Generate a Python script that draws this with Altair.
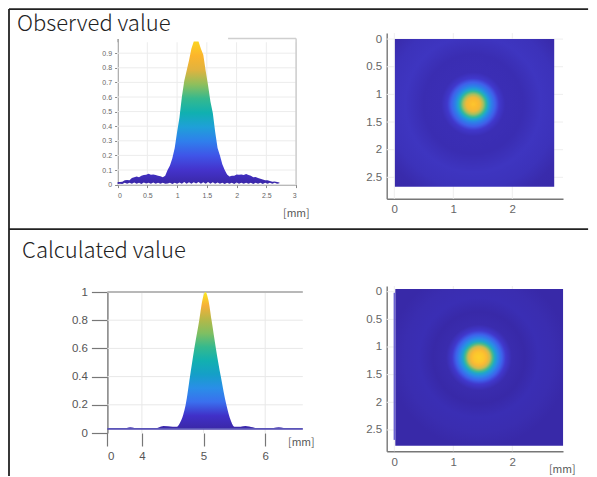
import altair as alt

# ---------- observed profile ----------
obs_x = [0.00,0.04,0.08,0.12,0.16,0.20,0.24,0.28,0.32,0.36,0.40,0.44,0.48,0.52,0.56,0.60,0.64,0.68,0.72,0.76,0.80,
         0.84,0.88,0.92,0.96,1.00,1.04,1.08,1.12,1.16,1.20,1.24,1.28,1.32,1.36,1.40,1.44,1.48,1.52,1.56,1.60,1.64,1.68,
         1.72,1.76,1.80,1.84,1.88,1.92,1.96,2.00,2.04,2.08,2.12,2.16,2.20,2.24,2.28,2.32,2.36,2.40,2.44,2.48,2.52,2.56,
         2.60,2.64,2.68,2.72]
obs_top = [.018,.018,.02,.03,.032,.03,.045,.05,.055,.05,.06,.065,.068,.075,.068,.07,.066,.06,.058,.05,.06,
           .10,.13,.18,.25,.36,.46,.60,.71,.78,.85,.93,.98,.98,.98,.93,.89,.78,.68,.57,.49,.36,.25,
           .20,.14,.10,.07,.055,.06,.06,.07,.068,.07,.065,.072,.065,.06,.05,.052,.045,.04,.035,.03,.03,.025,
           .02,.022,.018,.015]
obs_low = [.004,.006,.004,.012,.006,.012,.005,.014,.006,.012,.004,.014,.008,.012,.005,.014,.006,.012,.006,.012,.005,
           .008,.012,.004,.012,.006,.014,.005,.018,.006,.016,.006,.016,.008,.018,.006,.016,.006,.018,.005,.016,.006,.014,
           .006,.012,.004,.012,.006,.012,.004,.014,.006,.012,.005,.012,.006,.012,.004,.012,.006,.012,.004,.012,.005,.012,
           .006,.012,.006,.01]
# ---------- calculated profile ----------
calc_x = [3.44,3.60,3.70,3.81,3.95,4.10,4.19,4.35,4.50,4.57,4.62,4.67,4.71,4.78,4.85,4.93,4.98,5.03,5.08,5.13,5.20,5.28,5.37,5.44,5.50,5.60,5.68,5.80,5.89,6.05,6.22,6.38,6.61]
calc_top = [.03,.03,.03,.04,.03,.03,.03,.05,.045,.045,.075,.13,.20,.40,.60,.80,.94,1.0,.94,.80,.60,.40,.20,.09,.045,.045,.05,.04,.03,.03,.04,.03,.03]
calc_base = [.025]*len(calc_x)

# ---------- tick values ----------
p1_xticks = [0, .5, 1, 1.5, 2, 2.5, 3]
p1_yticks = [0, .1, .2, .3, .4, .5, .6, .7, .8, .9]
img_xticks = [0, 1, 2]
img_yticks = [0, .5, 1, 1.5, 2, 2.5]
p3_xticks = [3.44, 4, 5, 6]
p3_yticks = [0, .2, .4, .6, .8, 1]

# ---------- colour stops ----------
obs_grad_off = [0,.1,.2,.3,.4,.5,.6,.7,.8,.9,1]
obs_grad_col = ["#3a27a6","#4433cc","#3f55e8","#2f7fec","#1fa0d8","#10b0b0","#35b98e","#8fbf5c","#e0b33f","#fcb52c","#fbd420"]
calc_grad_off = [0,.1,.2,.3,.4,.5,.6,.7,.8,.9,1]
calc_grad_col = ["#3a27a6","#4030c8","#3a6fee","#2a8ee8","#159fc8","#12b0b0","#35b98e","#7fbf62","#b5b848","#f5b038","#fbe81c"]

# radial profile of the two images: radius [px], colour
obs_r   = [0,4,7,10,13,15,18,22,26,32,50,68,85,100,119]
obs_c   = ["#fcc62d","#fbbb2e","#eeb93a","#a6bf5f","#32b89a","#1fa5d0","#2b82e8","#3f5fea","#4038cc","#3b2eb5","#3a2db2","#3e35c0","#3c32ba","#392bac","#3829a8"]
calc_r  = [0,5,8,11,14,16,19,23,27,33,46,60,75,90,120]
calc_c  = ["#fcd02a","#fcc62d","#f8b836","#c8bc50","#45b98e","#1fa8c8","#2b8ae8","#3d62ec","#4038cc","#3a2cae","#3829a8","#3a2eb4","#3a2db0","#3829a8","#3829a8"]

# panel rectangles
obs_img = dict(x=0.01, x2=2.71, y=0.0, y2=2.67)
calc_img = dict(x=0.017, x2=2.86, y=-0.05, y2=2.785)
calc_strip = dict(x=-0.012, x2=0.017, y=0.02, y2=2.68)

FONT = "Liberation Sans"
TXT = "Noto Sans CJK JP"

# grid cell origins and sizes (page px)
OX1, OX2, OY1, OY2 = 8.9, 308, 8.9, 229
W1, W2, H1, H2 = OX2 - OX1, 279, OY2 - OY1, 246


def stops(off, col):
    return [alt.GradientStop(color=c, offset=o) for o, c in zip(off, col)]


def linear(off, col):
    return alt.LinearGradient(gradient="linear", stops=stops(off, col), x1=0, x2=0, y1=1, y2=0)


def radial(rs, cs, cx, cy, R, box):
    return alt.RadialGradient(gradient="radial", stops=stops([r / R for r in rs], cs),
                              x1=cx, y1=cy, x2=cx, y2=cy, r1=0, r2=R / box)


def rows(**cols):
    n = len(next(iter(cols.values())))
    return [{k: v[i] for k, v in cols.items()} for i in range(n)]


def frame_rule(ox, oy, x0, x1, y0, y1):
    c = alt.Chart(alt.Data(values=[{"a": 0}]))
    if y0 == y1:
        return c.mark_rule(color="#222222", strokeWidth=1.8).encode(
            x=alt.value(x0 - ox), x2=alt.value(x1 - ox), y=alt.value(y0 - oy))
    return c.mark_rule(color="#222222", strokeWidth=1.8).encode(
        x=alt.value(x0 - ox), y=alt.value(y0 - oy), y2=alt.value(y1 - oy))


def label(ox, oy, x, y, text, size, color, font=TXT, weight=400):
    return alt.Chart(alt.Data(values=[{"t": text}])).mark_text(
        align="left", baseline="alphabetic", fontSize=size, color=color, font=font, fontWeight=weight
    ).encode(x=alt.value(x - ox), y=alt.value(y - oy), text="t:N")


def grid(xs, ys, xa, ya, xvals, yvals, xspan, yspan, color):
    v = alt.Chart(alt.Data(values=[dict(x=a, y=yspan[0], y2=yspan[1]) for a in xvals])).mark_rule(color=color, strokeWidth=1).encode(
        x=alt.X("x:Q", scale=xs, axis=xa), y=alt.Y("y:Q", scale=ys, axis=ya), y2="y2:Q")
    h = alt.Chart(alt.Data(values=[dict(x=xspan[0], x2=xspan[1], y=b) for b in yvals])).mark_rule(color=color, strokeWidth=1).encode(
        x=alt.X("x:Q", scale=xs, axis=xa), x2="x2:Q", y=alt.Y("y:Q", scale=ys, axis=ya))
    return [v, h]


# ---------- panel 1 ----------
xs1 = alt.Scale(domain=[0, 3], nice=False, range=[117.5 - OX1, 296 - OX1])
ys1 = alt.Scale(domain=[0, 1], nice=False, range=[184.5 - OY1, 38.5 - OY1])
xa1 = alt.Axis(values=p1_xticks, format="~g", title=None, grid=False,
               domainColor="#9a9a9a", domainWidth=1.5, tickColor="#888888", tickSize=3,
               labelFontSize=7, labelColor="#666666", labelFont=FONT, labelPadding=4, labelOverlap=False,
               offset=184.5 - OY1 - H1)
ya1 = alt.Axis(values=p1_yticks, format="~g", title=None, grid=False,
               domainColor="#9a9a9a", domainWidth=1.5, tickColor="#888888", tickSize=3,
               labelFontSize=7, labelColor="#666666", labelFont=FONT, labelPadding=3, labelOverlap=False,
               offset=-(117.5 - OX1))
a1 = alt.Chart(alt.Data(values=rows(x=obs_x, y=obs_top, y2=obs_low))).mark_area(
    interpolate="linear", color=linear(obs_grad_off, obs_grad_col)
).encode(x=alt.X("x:Q", scale=xs1, axis=xa1), y=alt.Y("y:Q", scale=ys1, axis=ya1), y2="y2:Q")
edge1 = alt.Chart(alt.Data(values=[dict(x=3, y=0, y2=1)])).mark_rule(color="#c4c4c4", strokeWidth=1.2).encode(
    x=alt.X("x:Q", scale=xs1, axis=xa1), y=alt.Y("y:Q", scale=ys1, axis=ya1), y2="y2:Q")
top1 = alt.Chart(alt.Data(values=[dict(x=1.857, x2=3, y=1)])).mark_rule(color="#cfcfcf", strokeWidth=1.5).encode(
    x=alt.X("x:Q", scale=xs1, axis=xa1), x2="x2:Q", y=alt.Y("y:Q", scale=ys1, axis=ya1))

p1 = alt.layer(
    *grid(xs1, ys1, xa1, ya1, p1_xticks, p1_yticks, [0, 3], [0, .975], "#ececec"),
    a1, edge1, top1,
    frame_rule(OX1, OY1, 8.9, 588, 9, 9),
    frame_rule(OX1, OY1, 8.9, 588, 229, 229),
    frame_rule(OX1, OY1, 8.9, 8.9, 9, 476),
    label(OX1, OY1, 17, 31, "Observed value", 22, "#222222", weight=300),
    label(OX1, OY1, 283, 217, "[mm]", 10.5, "#555555"),
    label(OX1, OY1, 22, 258, "Calculated value", 22, "#222222", weight=300),
).properties(width=W1, height=H1)


# ---------- images ----------
def image_layers(img, grad, ydom, y0, y1, oy, h, extra=None):
    xs = alt.Scale(domain=[-0.129, 2.859], nice=False, range=[385.7 - OX2, 562 - OX2])
    ys = alt.Scale(domain=ydom, nice=False, range=[y0 - oy, y1 - oy])
    ax = dict(title=None, grid=False, domainColor="#777777", domainWidth=1.4,
              tickSize=0, labelFontSize=11.5, labelColor="#666666", labelFont=FONT, format="~g")
    xa = alt.Axis(values=img_xticks, labelPadding=5, offset=y1 - oy - h, **ax)
    ya = alt.Axis(values=img_yticks, labelPadding=5, offset=-(385.7 - OX2), **ax)
    base = alt.Chart(alt.Data(values=[img])).mark_rect(color=grad).encode(
        x=alt.X("x:Q", scale=xs, axis=xa), x2="x2:Q",
        y=alt.Y("y:Q", scale=ys, axis=ya), y2="y2:Q")
    layers = grid(xs, ys, xa, ya, img_xticks, img_yticks, [-0.129, 2.859], ydom, "#eeeeee") + [base]
    if extra:
        layers.append(alt.Chart(alt.Data(values=[extra])).mark_rect(color="#6a62d2").encode(
            x=alt.X("x:Q", scale=xs, axis=xa), x2="x2:Q", y=alt.Y("y:Q", scale=ys, axis=ya), y2="y2:Q"))
    return layers


g2 = radial(obs_r, obs_c, (472.3 - 394) / 159.3, (110 - 39) / 159.3, 119, 159.3)
p2 = alt.layer(*image_layers(obs_img, g2, [-0.108, 2.888], 33, 198.7, OY1, H1)).properties(width=W2, height=H1)

g4 = radial(calc_r, calc_c, (478.3 - 394.3) / 168.4, (362.3 - 288) / 168.4, 120, 168.4)
p4 = alt.layer(*image_layers(calc_img, g4, [-0.103, 2.886], 285, 450.3, OY2, H2, calc_strip),
               label(OX2, OY2, 548, 472, "[mm]", 10.5, "#555555")).properties(width=W2, height=H2)

# ---------- panel 3 ----------
xs3 = alt.Scale(domain=[3.44, 6.61], nice=False, range=[107.3 - OX1, 302.7 - OX1])
ys3 = alt.Scale(domain=[0, 1], nice=False, range=[432 - OY2, 291 - OY2])
xa3 = alt.Axis(values=p3_xticks, labelExpr="datum.value < 3.5 ? '0' : format(datum.value, '~g')",
               title=None, grid=False, domainOpacity=0, tickColor="#777777", tickWidth=1.2, tickSize=13,
               labelFontSize=11.5, labelColor="#555555", labelFont=FONT, labelPadding=4, offset=432 - OY2 - H2)
ya3 = alt.Axis(values=p3_yticks, format="~g", title=None, grid=False,
               domainColor="#777777", domainWidth=1.4, tickColor="#777777", tickWidth=1.2, tickSize=16,
               labelFontSize=11.5, labelColor="#555555", labelFont=FONT, labelPadding=4, offset=-(107.3 - OX1))
a3 = alt.Chart(alt.Data(values=rows(x=calc_x, y=calc_top, y2=calc_base))).mark_area(
    interpolate="monotone", color=linear(calc_grad_off, calc_grad_col)
).encode(x=alt.X("x:Q", scale=xs3, axis=xa3), y=alt.Y("y:Q", scale=ys3, axis=ya3), y2="y2:Q")
floor3 = alt.Chart(alt.Data(values=[dict(x=3.44, x2=6.61, y=.03)])).mark_rule(color="#5a55b8", strokeWidth=1.5).encode(
    x=alt.X("x:Q", scale=xs3, axis=xa3), x2="x2:Q", y=alt.Y("y:Q", scale=ys3, axis=ya3))
top3 = alt.Chart(alt.Data(values=[dict(x=3.44, x2=6.61, y=1)])).mark_rule(color="#b8b8b8", strokeWidth=2).encode(
    x=alt.X("x:Q", scale=xs3, axis=xa3), x2="x2:Q", y=alt.Y("y:Q", scale=ys3, axis=ya3))
p3 = alt.layer(*grid(xs3, ys3, xa3, ya3, p3_xticks[1:], p3_yticks[1:], [3.44, 6.61], [0, 1], "#e8e8e8"),
               top3, a3, floor3, label(OX1, OY2, 288, 445, "[mm]", 10.5, "#555555")).properties(width=W1, height=H2)

chart = alt.concat(p1, p2, p3, p4, columns=2, spacing=0, bounds="flush").properties(padding=0).configure_view(stroke=None)
chart.save("out.html", embed_options={"renderer": "svg", "actions": False})
